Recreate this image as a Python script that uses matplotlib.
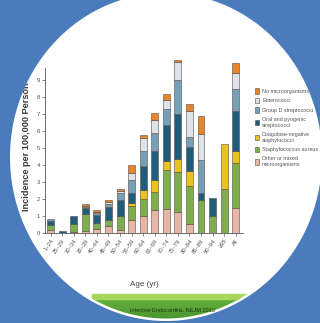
#!/usr/bin/env python3
"""
Incidence of infective endocarditis by age group and microorganism
(stacked bars on a slide with a round white panel)
"""
import numpy as np
import matplotlib
matplotlib.use('Agg')
import matplotlib.pyplot as plt
from matplotlib.patches import Patch, Ellipse, PathPatch
from matplotlib.path import Path

plt.rcParams['font.family'] = ['Liberation Sans', 'DejaVu Sans']

# Data (incidence per 100,000 person-yr)
age_groups = ['1–24', '25–29', '30–34', '35–39', '40–44', '45–49', '50–54',
              '55–59', '60–64', '65–69', '70–74', '75–79', '80–84', '85–89',
              '90–94', '≥95', 'All']
other_mixed = [0.2, 0.0, 0.08, 0.15, 0.25, 0.45, 0.2, 0.8, 1.02, 1.37, 1.43,
               1.27, 0.55, 0.0, 0.0, 0.0, 1.48]
staph_aureus = [0.3, 0.0, 0.45, 1.0, 0.35, 0.35, 0.8, 0.8, 0.98, 1.04, 2.29,
                2.35, 2.21, 1.97, 1.04, 2.6, 2.65]
coag_neg = [0, 0, 0, 0, 0, 0, 0, 0.2, 0.56, 0.73, 0.53, 0.75, 0.88, 0, 0,
            2.68, 0.69]
oral_pyogenic = [0.25, 0.14, 0.5, 0.35, 0.5, 0.75, 0.95, 0.55, 1.38, 1.7,
                 2.12, 2.63, 1.44, 0.39, 1.06, 0, 2.37]
group_d = [0.1, 0, 0, 0.05, 0.12, 0.17, 0.4, 0.8, 0.88, 1.04, 0.94, 2.02,
           0.59, 1.93, 0, 0, 1.27]
enterococci = [0, 0, 0, 0.05, 0.05, 0.12, 0.15, 0.4, 0.78, 0.78, 0.53, 1.08,
               1.52, 1.56, 0, 0, 0.99]
no_micro = [0, 0, 0, 0.13, 0.1, 0.12, 0.1, 0.45, 0.2, 0.4, 0.34, 0.1, 0.43,
            1.04, 0, 0, 0.55]

series = [
    ('Other or mixed\nmicroorganisms', other_mixed, '#e6b6a6'),
    ('Staphylococcus aureus', staph_aureus, '#7caf4c'),
    ('Coagulase-negative\nstaphylococci', coag_neg, '#e9c21f'),
    ('Oral and pyogenic\nstreptococci', oral_pyogenic, '#1e5d7b'),
    ('Group D streptococci', group_d, '#76a0b8'),
    ('Enterococci', enterococci, '#dde3eb'),
    ('No microorganisms', no_micro, '#e4862c'),
]

W, H = 320, 323
fig = plt.figure(figsize=(W / 100, H / 100), dpi=100)
fig.patch.set_facecolor('white')

# main axes placed in pixel terms
y0, px_per_unit = 233.3, 17.0
ax = fig.add_axes([45 / W, (H - y0) / H, 198 / W, (y0 - 58) / H])
ax.set_ylim(0, (y0 - 58) / px_per_unit)
ax.set_xlim(-0.49, 16.63)

x = np.arange(len(age_groups))
bottom = np.zeros(len(age_groups))
handles = []
for label, vals, color in series:
    vals = np.array(vals, dtype=float)
    lws = [0.4 if v > 0 else 0 for v in vals]
    ax.bar(x, vals, bottom=bottom, width=0.6, color=color,
           edgecolor='#5c4a44', linewidth=lws)
    bottom += vals
    handles.append(Patch(facecolor=color, edgecolor='#5c4a44', linewidth=0.4,
                         label=label))

for s in ['top', 'right']:
    ax.spines[s].set_visible(False)
ax.spines['left'].set_bounds(0, 9.75)
for s in ['left', 'bottom']:
    ax.spines[s].set_color('#555555')
    ax.spines[s].set_linewidth(0.6)

ax.set_yticks(range(10))
ax.set_xticks(x)
ax.set_xticklabels(age_groups, rotation=55, ha='right', rotation_mode='anchor')
ax.tick_params(axis='both', labelsize=4.2, colors='#555555', length=2,
               width=0.5, pad=1.5)

ax.legend(handles[::-1], [h.get_label() for h in handles[::-1]],
          loc='upper left', bbox_to_anchor=(255 / W, 1 - 88 / H),
          bbox_transform=fig.transFigure, frameon=False, fontsize=3.9,
          handlelength=0.8, handleheight=1.2, handletextpad=0.5,
          labelspacing=0.75, borderaxespad=0, borderpad=0,
          labelcolor='#555555')

fig.text(27 / W, 1 - 211 / H, 'Incidence per 100,000 Person-Yr',
         rotation=90, ha='center', va='bottom', fontsize=6.6,
         weight='bold', color='#3a3a3a')
fig.text(144 / W, 1 - 285 / H, 'Age (yr)', ha='center', va='center',
         fontsize=5.8, color='#444444')

# overlay in pixel coordinates: green banner + blue frame around the disc
ov = fig.add_axes([0, 0, 1, 1], zorder=10)
ov.set_xlim(0, W)
ov.set_ylim(H, 0)
ov.axis('off')
ov.patch.set_alpha(0)

cx, cy, a, b = 166, 157, 156, 164
inner = Ellipse((cx, cy), 2 * a - 5, 2 * b - 5, transform=ov.transData)

grad = np.linspace(0, 1, 60)[:, None]
c_top = np.array([0.40, 0.70, 0.24])
c_bot = np.array([0.27, 0.56, 0.17])
img = c_top[None, None, :] * (1 - grad[..., None]) + c_bot[None, None, :] * grad[..., None]
img = np.repeat(img, 2, axis=1)
im = ov.imshow(img, extent=[92, 250, 323, 298], aspect='auto', zorder=1)
im.set_clip_path(inner)
stripe = ov.add_patch(plt.Rectangle((92, 294), 158, 4.5, color='#a8d65c',
                                    zorder=2))
stripe.set_clip_path(inner)
t = ov.text(130, 311, 'Infective Endocarditis. NEJM 2013', fontsize=4,
            color='#1d3a12', va='center', ha='left', zorder=3)
t.set_clip_path(inner)

tt = np.linspace(2 * np.pi, 0, 400)
ell = np.column_stack([cx + a * np.cos(tt), cy + b * np.sin(tt)])
rect = np.array([[0, 0], [W, 0], [W, H], [0, H], [0, 0]])
verts = np.vstack([rect, ell, ell[:1]])
codes = ([Path.MOVETO] + [Path.LINETO] * 3 + [Path.CLOSEPOLY] +
         [Path.MOVETO] + [Path.LINETO] * (len(ell) - 1) + [Path.CLOSEPOLY])
ov.add_patch(PathPatch(Path(verts, codes), facecolor='#4a7cbc',
                       edgecolor='none', zorder=5))

fig.savefig('out.png', dpi=100)
plt.close(fig)
